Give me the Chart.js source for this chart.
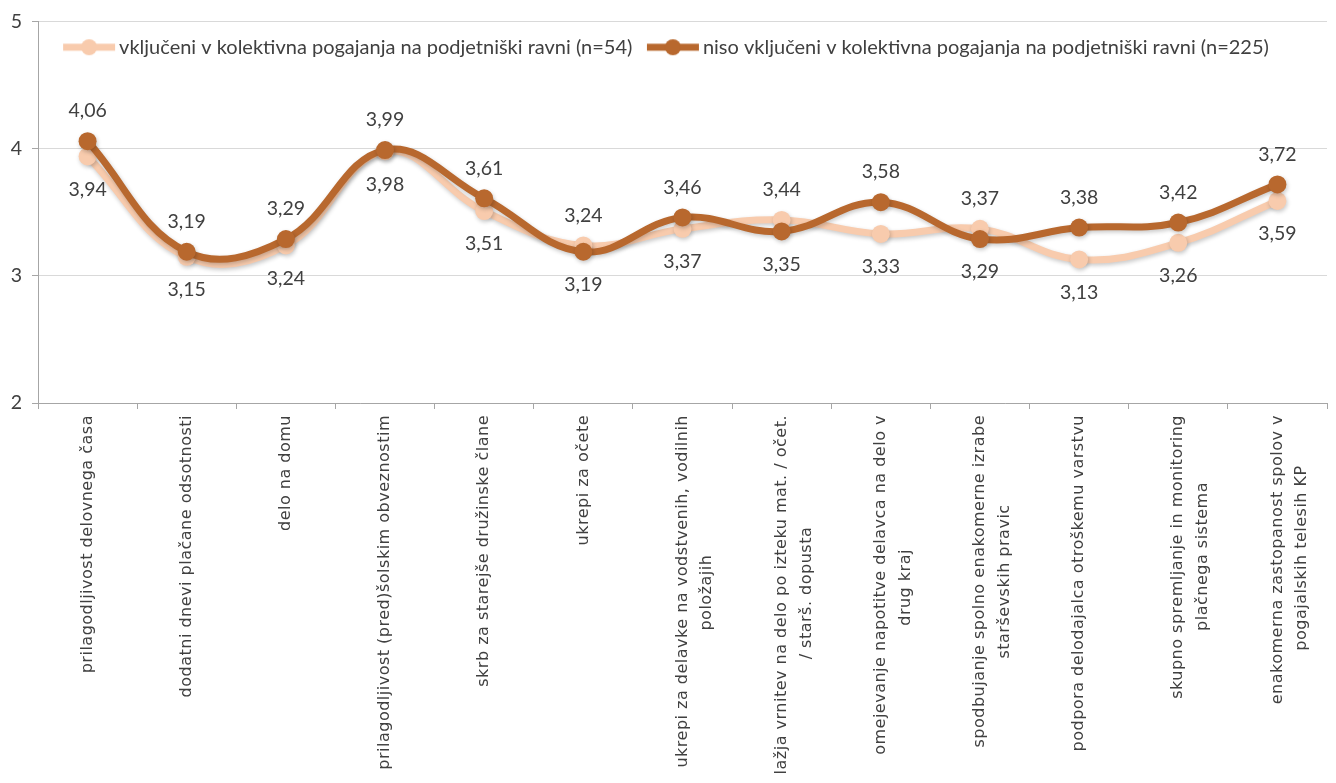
<!DOCTYPE html>
<html>
<head>
<meta charset="utf-8">
<script src="https://cdn.jsdelivr.net/npm/chart.js@4/dist/chart.umd.min.js"></script>
<style>
  html, body { margin: 0; padding: 0; background: #fff; }
  #wrap { width: 1336px; height: 783px; }
</style>
</head>
<body>
<div id="wrap"><canvas id="chart"></canvas></div>
<script>
// --- DATA ---
const categories = [
    'prilagodljivost delovnega časa',
    'dodatni dnevi plačane odsotnosti',
    'delo na domu',
    'prilagodljivost (pred)šolskim obveznostim',
    'skrb za starejše družinske člane',
    'ukrepi za očete',
    ['ukrepi za delavke na vodstvenih, vodilnih', 'položajih'],
    ['lažja vrnitev na delo po izteku mat. / očet.', '/ starš. dopusta'],
    ['omejevanje napotitve delavca na delo v', 'drug kraj'],
    ['spodbujanje spolno enakomerne izrabe', 'starševskih pravic'],
    'podpora delodajalca otroškemu varstvu',
    ['skupno spremljanje in monitoring', 'plačnega sistema'],
    ['enakomerna zastopanost spolov v', 'pogajalskih telesih KP']
];
const seriesNames = [
    'vključeni v kolektivna pogajanja na podjetniški ravni (n=54)',
    'niso vključeni v kolektivna pogajanja na podjetniški ravni (n=225)'
];
const included    = [3.94, 3.15, 3.24, 3.98, 3.51, 3.24, 3.37, 3.44, 3.33, 3.37, 3.13, 3.26, 3.59];
const notIncluded = [4.06, 3.19, 3.29, 3.99, 3.61, 3.19, 3.46, 3.35, 3.58, 3.29, 3.38, 3.42, 3.72];
const yTicks = [2, 3, 4, 5];

const PINK = '#f8cbad';
const BROWN = '#b8682e';
const TEXT = '#404040';
const LABEL_FONT = 'Lato, "Open Sans", sans-serif';
const AXIS_FONT = '"DejaVu Sans", sans-serif';
const AXIS_SIZE = 16;
const AXIS_SPACING = '0.5px';

function fmt(v) { return v.toFixed(2).replace('.', ','); }

// legend symbol: short thick line with a dot
function legendMark(color) {
    const c = document.createElement('canvas');
    c.width = 60; c.height = 20;
    const g = c.getContext('2d');
    g.strokeStyle = color; g.lineWidth = 7;
    g.beginPath(); g.moveTo(6, 10); g.lineTo(58, 10); g.stroke();
    g.fillStyle = color;
    g.beginPath(); g.arc(32, 10, 8, 0, Math.PI * 2); g.fill();
    return c;
}
const marks = [legendMark(PINK), legendMark(BROWN)];

// second line of a wrapped label is centred on the first (like the original)
const meas = document.createElement('canvas').getContext('2d');
meas.font = AXIS_SIZE + 'px ' + AXIS_FONT;
meas.letterSpacing = AXIS_SPACING;
function centreLines(lbl) {
    if (!Array.isArray(lbl)) return lbl;
    const w0 = meas.measureText(lbl[0]).width;
    const sp = meas.measureText('\u00a0').width;
    return lbl.map((l, i) => {
        if (i === 0) return l;
        const n = Math.max(0, Math.round((w0 - meas.measureText(l).width) / 2 / sp));
        return l + '\u00a0'.repeat(n);
    });
}

// soft shadow under the lines
const lineShadow = {
    id: 'lineShadow',
    beforeDatasetDraw(chart) {
        const ctx = chart.ctx;
        ctx.save();
        ctx.shadowColor = 'rgba(0,0,0,0.22)';
        ctx.shadowBlur = 4;
        ctx.shadowOffsetX = 1;
        ctx.shadowOffsetY = 2;
    },
    afterDatasetDraw(chart) { chart.ctx.restore(); }
};

// legend sits inside the plot area: keep its layout height tiny, then
// give it room to draw so it is not clipped
const legendInside = {
    id: 'legendInside',
    afterLayout(chart) {
        const lg = chart.legend;
        if (!lg) return;
        lg.height = 60;
        lg.bottom = lg.top + 60;
    }
};

// wider letter spacing for the category labels only
const spacedTicks = {
    id: 'spacedTicks',
    beforeDraw(chart) {
        const sx = chart.scales.x;
        if (sx._spaced) return;
        const orig = sx.drawLabels;
        sx.drawLabels = function (area) {
            const c = this.ctx, prev = c.letterSpacing;
            c.letterSpacing = AXIS_SPACING;
            orig.call(this, area);
            c.letterSpacing = prev || '0px';
        };
        sx._spaced = true;
    }
};

// value labels: higher value above its point, lower value below
const valueLabels = {
    id: 'valueLabels',
    afterDatasetsDraw(chart) {
        const ctx = chart.ctx;
        const m0 = chart.getDatasetMeta(0), m1 = chart.getDatasetMeta(1);
        ctx.save();
        ctx.font = '19.5px ' + LABEL_FONT;
        ctx.fillStyle = TEXT;
        ctx.textAlign = 'center';
        ctx.textBaseline = 'middle';
        categories.forEach((c, i) => {
            const a = { v: included[i], p: m0.data[i] };
            const b = { v: notIncluded[i], p: m1.data[i] };
            const hi = a.v > b.v ? a : b, lo = a.v > b.v ? b : a;
            ctx.fillText(fmt(hi.v), hi.p.x, hi.p.y - 30);
            ctx.fillText(fmt(lo.v), lo.p.x, lo.p.y + 33);
        });
        ctx.restore();
    }
};

new Chart(document.getElementById('chart'), {
    type: 'line',
    data: {
        labels: categories,
        datasets: [
            { label: seriesNames[0], data: included, borderColor: PINK, backgroundColor: PINK,
              borderWidth: 7, pointRadius: 9, pointHoverRadius: 9, pointBorderWidth: 0,
              tension: 0.4, order: 2 },
            { label: seriesNames[1], data: notIncluded, borderColor: BROWN, backgroundColor: BROWN,
              borderWidth: 7, pointRadius: 9, pointHoverRadius: 9, pointBorderWidth: 0,
              tension: 0.4, order: 1 }
        ]
    },
    options: {
        responsive: true,
        maintainAspectRatio: false,
        animation: false,
        layout: { padding: { top: 17, right: 2, left: 0, bottom: 0 } },
        plugins: {
            tooltip: { enabled: false },
            legend: {
                position: 'top',
                align: 'center',
                reverse: true,
                maxHeight: 1,
                labels: {
                    color: TEXT,
                    font: { family: LABEL_FONT, size: 20 },
                    usePointStyle: true,
                    pointStyleWidth: 44,
                    padding: 16.5,
                    generateLabels(chart) {
                        const items = Chart.defaults.plugins.legend.labels.generateLabels(chart);
                        items.forEach(it => { it.pointStyle = marks[it.datasetIndex]; });
                        return items;
                    }
                }
            }
        },
        scales: {
            x: {
                offset: true,
                afterFit(s) { s.height = 380; },
                border: { color: '#a6a6a6', width: 1 },
                grid: { offset: true, drawOnChartArea: false, color: '#a6a6a6', tickLength: 6 },
                ticks: {
                    autoSkip: false, minRotation: 90, maxRotation: 90, padding: 6,
                    color: TEXT,
                    font: { family: AXIS_FONT, size: AXIS_SIZE, lineHeight: 1.55 },
                    callback: (v, i) => centreLines(categories[i])
                }
            },
            y: {
                min: 2, max: 5,
                afterFit(s) { s.width = 38; },
                afterBuildTicks(s) { s.ticks = yTicks.map(v => ({ value: v })); },
                border: { color: '#a6a6a6', width: 1 },
                grid: { color: '#d9d9d9', tickColor: '#a6a6a6', tickLength: 6 },
                ticks: {
                    padding: 10,
                    color: TEXT,
                    font: { family: LABEL_FONT, size: 19.5 },
                    callback: v => String(v)
                }
            }
        }
    },
    plugins: [lineShadow, legendInside, spacedTicks, valueLabels]
});
</script>
</body>
</html>
